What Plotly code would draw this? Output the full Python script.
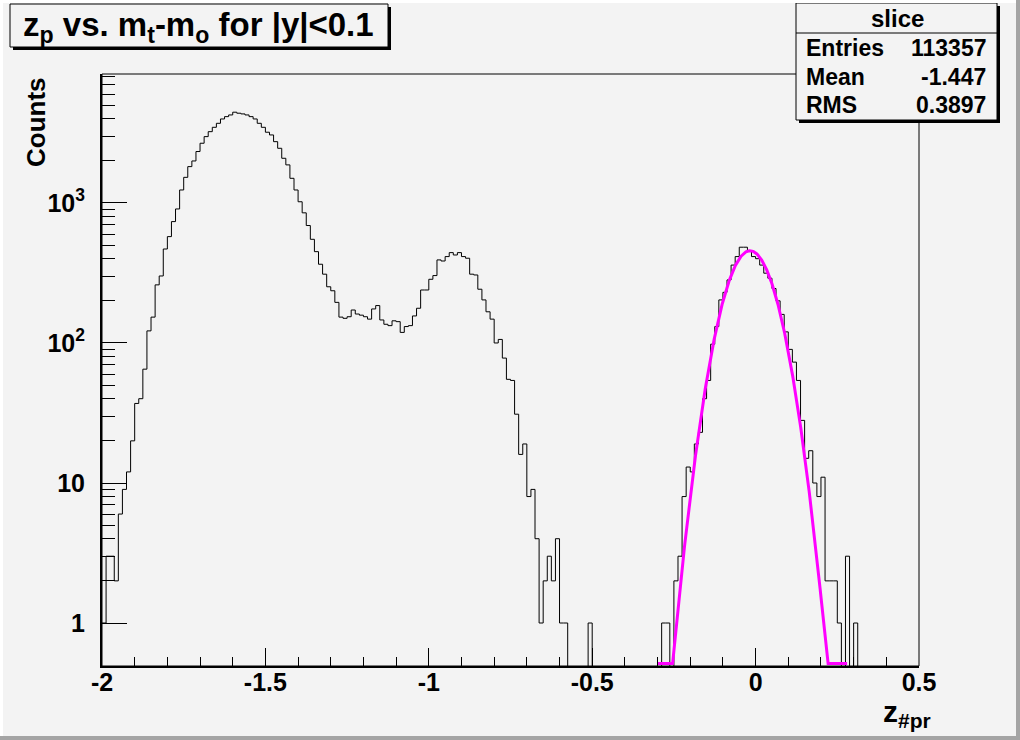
import numpy as np
import plotly.graph_objects as go

# ---------------- data ----------------
x_low, x_high, n_bins = -2.0, 0.5, 200
counts = [
    1, 3, 3, 2, 6, 9, 12, 20, 37, 40,
    65, 122, 153, 260, 301, 469, 575, 736, 906, 1238,
    1524, 1818, 1995, 2330, 2670, 2977, 3230, 3470, 3706, 3980,
    4135, 4252, 4448, 4375, 4325, 4252, 4135, 3980, 3706, 3470,
    3200, 3060, 2740, 2457, 2085, 1870, 1500, 1238, 1020, 850,
    690, 550, 449, 365, 310, 252, 236, 195, 153, 150,
    154, 172, 161, 158, 154, 148, 175, 185, 146, 136,
    133, 144, 142, 119, 131, 133, 156, 177, 239, 239,
    285, 303, 392, 385, 414, 442, 425, 442, 414, 403,
    310, 306, 242, 203, 167, 148, 100, 106, 78, 55,
    54, 31, 16, 19, 8, 9, 4, 1, 2, 3,
    2, 4, 1, 1, 0, 0, 0, 0, 0, 1,
    0, 0, 0, 0, 0, 0, 0, 0, 0, 0,
    0, 0, 0, 0, 0, 0, 0, 1, 1, 0,
    2, 3, 8, 13, 12, 19, 23, 40, 54, 98,
    131, 203, 230, 282, 360, 414, 483, 483, 456, 414,
    400, 360, 315, 290, 245, 200, 160, 120, 90, 73,
    54, 28, 15, 17, 10, 8, 11, 2, 2, 2,
    1, 0, 3, 0, 1, 0, 0, 0, 0, 0,
    0, 0, 0, 0, 0, 0, 0, 0, 0, 0,
]

# gaussian fit parameters
fit_const = 456.0
fit_mean = -0.017
fit_sigma = 0.0643
fit_range = (-0.30, 0.28)

title_text = "z<sub>p</sub> vs. m<sub>t</sub>-m<sub>o</sub> for |y|&lt;0.1"
stats_name = "slice"
stats_rows = [("Entries", "113357"), ("Mean", "-1.447"), ("RMS", "0.3897")]
x_tickvals = [-2, -1.5, -1, -0.5, 0, 0.5]
x_ticktext = ["-2", "-1.5", "-1", "-0.5", "0", "0.5"]
y_tickvals = [1, 10, 100, 1000]
y_ticktext = ["1", "10", "10<sup>2</sup>", "10<sup>3</sup>"]
y_minor_vals = [m * 10 ** d for d in range(0, 4) for m in range(2, 10) if m * 10 ** d < 8400]

# ---------------- geometry ----------------
W, H = 1020, 740
PL, PR, PT, PB = 102, 919, 74, 666
y_log_range = [-0.307, 3.921]
y_floor = 10 ** y_log_range[0]


def fx(p):
    return (p - PL) / (PR - PL)


def fy(p):
    return (PB - p) / (PB - PT)


BG = "#f3f3f3"
FONT = "Liberation Sans, Arial, Helvetica, sans-serif"

# histogram step line
edges = np.linspace(x_low, x_high, n_bins + 1)
vals = np.array(counts, dtype=float)
vals_plot = np.where(vals > 0, vals, 0.05)
hx = np.concatenate([edges[:-1], [edges[-1]]])
hy = np.concatenate([vals_plot, [vals_plot[-1]]])

# fit curve
fxv = np.linspace(fit_range[0], fit_range[1], 600)
fyv = fit_const * np.exp(-0.5 * ((fxv - fit_mean) / fit_sigma) ** 2)
fyv = np.maximum(fyv, y_floor * 1.04)

fig = go.Figure()
fig.add_trace(go.Scatter(x=hx, y=hy, mode="lines", line=dict(shape="hv", color="black", width=1),
                         hoverinfo="skip", showlegend=False))
fig.add_trace(go.Scatter(x=fxv, y=fyv, mode="lines", line=dict(color="#ff00ff", width=3),
                         hoverinfo="skip", showlegend=False))

tickfont = dict(family=FONT, size=25, color="black", weight="bold")
fig.update_layout(
    width=W, height=H,
    margin=dict(l=PL, r=W - PR, t=PT, b=H - PB, pad=0),
    paper_bgcolor=BG, plot_bgcolor=BG,
    showlegend=False,
    xaxis=dict(range=[x_low, x_high], tickvals=x_tickvals, ticktext=x_ticktext,
               ticks="inside", ticklen=18, tickwidth=1, tickcolor="black",
               minor=dict(dtick=0.1, tick0=0, ticks="inside", ticklen=9, tickwidth=1, tickcolor="black"),
               showline=True, linecolor="black", linewidth=2, mirror=False,
               showgrid=False, zeroline=False, tickfont=tickfont, ticklabelstandoff=-7),
    yaxis=dict(type="log", range=y_log_range, tickvals=y_tickvals, ticktext=y_ticktext,
               ticks="inside", ticklen=25, tickwidth=1, tickcolor="black",
               minor=dict(tickmode="array", tickvals=y_minor_vals, ticks="inside", ticklen=13,
                          tickwidth=1, tickcolor="black", showgrid=False),
               showline=True, linecolor="black", linewidth=2, mirror=False,
               showgrid=False, zeroline=False, tickfont=tickfont, ticklabelstandoff=10),
)

shapes = []
# frame
shapes.append(dict(type="rect", xref="paper", yref="paper", x0=0, x1=1, y0=0, y1=1,
                   line=dict(color="black", width=1), fillcolor="rgba(0,0,0,0)", layer="above"))


def box(x0, y0, x1, y1):
    # shadow then box
    shapes.append(dict(type="rect", xref="paper", yref="paper", x0=fx(x0 + 3), x1=fx(x1 + 3),
                       y0=fy(y1 + 3), y1=fy(y0 + 3), line=dict(width=0), fillcolor="black", layer="above"))
    shapes.append(dict(type="rect", xref="paper", yref="paper", x0=fx(x0), x1=fx(x1),
                       y0=fy(y1), y1=fy(y0), line=dict(color="black", width=1), fillcolor=BG, layer="above"))


box(10, 4, 388, 47)
box(796, 3, 997, 120)
shapes.append(dict(type="line", xref="paper", yref="paper", x0=fx(796), x1=fx(997), y0=fy(33), y1=fy(33),
                   line=dict(color="black", width=1), layer="above"))
# canvas bevel
shapes.append(dict(type="rect", xref="paper", yref="paper", x0=fx(1016), x1=fx(1021), y0=fy(741), y1=fy(-1),
                   line=dict(width=0), fillcolor="#a4a4a4", layer="above"))
shapes.append(dict(type="rect", xref="paper", yref="paper", x0=fx(-1), x1=fx(1021), y0=fy(741), y1=fy(736),
                   line=dict(width=0), fillcolor="#a4a4a4", layer="above"))
shapes.append(dict(type="rect", xref="paper", yref="paper", x0=fx(-1), x1=fx(3), y0=fy(736), y1=fy(-1),
                   line=dict(width=0), fillcolor="#ffffff", layer="above"))
shapes.append(dict(type="rect", xref="paper", yref="paper", x0=fx(-1), x1=fx(1016), y0=fy(3), y1=fy(-1),
                   line=dict(width=0), fillcolor="#ffffff", layer="above"))
fig.update_layout(shapes=shapes)

ann = []
ann.append(dict(text=title_text, x=fx(21), y=fy(27), xref="paper", yref="paper", xanchor="left",
                yanchor="middle", showarrow=False, font=dict(family=FONT, size=33, color="black", weight="bold")))
ann.append(dict(text=stats_name, x=fx(897), y=fy(19), xref="paper", yref="paper", xanchor="center",
                yanchor="middle", showarrow=False, font=dict(family=FONT, size=24, color="black", weight="bold")))
row_y = [48, 77, 105]
for (lab, val), yy in zip(stats_rows, row_y):
    ann.append(dict(text=lab, x=fx(804), y=fy(yy), xref="paper", yref="paper", xanchor="left",
                    yanchor="middle", showarrow=False, font=dict(family=FONT, size=23, color="black", weight="bold")))
    ann.append(dict(text=val, x=fx(988), y=fy(yy), xref="paper", yref="paper", xanchor="right",
                    yanchor="middle", showarrow=False, font=dict(family=FONT, size=23, color="black", weight="bold")))
ann.append(dict(text="Counts", x=fx(36), y=fy(75), xref="paper", yref="paper", xanchor="center",
                yanchor="top", textangle=-90, showarrow=False,
                font=dict(family=FONT, size=26, color="black", weight="bold")))
ann.append(dict(text="z<sub>#pr</sub>", x=fx(933), y=fy(693), xref="paper", yref="paper", xanchor="right",
                yanchor="top", showarrow=False, font=dict(family=FONT, size=30, color="black", weight="bold")))
fig.update_layout(annotations=ann)

fig.write_html("out.html", config={"displayModeBar": False},
               post_script="document.body.style.margin='0';document.body.style.overflow='hidden';")
